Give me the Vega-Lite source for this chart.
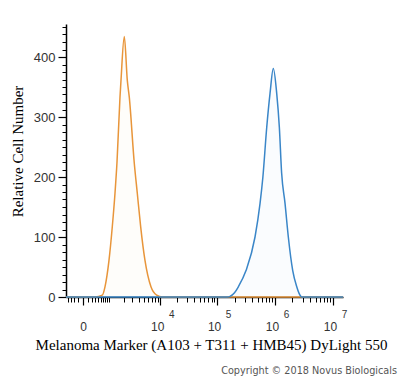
{
  "$schema": "https://vega.github.io/schema/vega-lite/v6.json",
  "width": 277,
  "height": 273,
  "autosize": {"type": "none"},
  "padding": {"left": 66, "top": 24, "right": 57, "bottom": 81},
  "background": "white",
  "config": {"view": {"stroke": null}, "axis": {"grid": false}},
  "title": {
    "text": "Copyright © 2018 Novus Biologicals",
    "orient": "bottom",
    "anchor": "end",
    "frame": "group",
    "font": "DejaVu Sans",
    "fontSize": 9.7,
    "fontWeight": "normal",
    "color": "#555555",
    "offset": 14,
    "dx": 54
  },
  "data": {
    "values": [
      {"series": "control", "x": -472, "count": 0},
      {"series": "control", "x": 300, "count": 0},
      {"series": "control", "x": 564, "count": 3},
      {"series": "control", "x": 683, "count": 17},
      {"series": "control", "x": 885, "count": 61},
      {"series": "control", "x": 1077, "count": 117},
      {"series": "control", "x": 1255, "count": 173},
      {"series": "control", "x": 1400, "count": 225},
      {"series": "control", "x": 1637, "count": 333},
      {"series": "control", "x": 1724, "count": 361},
      {"series": "control", "x": 2034, "count": 434},
      {"series": "control", "x": 2355, "count": 361},
      {"series": "control", "x": 2587, "count": 333},
      {"series": "control", "x": 3263, "count": 223},
      {"series": "control", "x": 3739, "count": 173},
      {"series": "control", "x": 4348, "count": 117},
      {"series": "control", "x": 5247, "count": 61},
      {"series": "control", "x": 6787, "count": 17},
      {"series": "control", "x": 8639, "count": 3},
      {"series": "control", "x": 11000, "count": 0},
      {"series": "control", "x": 14870000, "count": 0},
      {"series": "marker", "x": -472, "count": 0},
      {"series": "marker", "x": 150000, "count": 0},
      {"series": "marker", "x": 167000, "count": 1},
      {"series": "marker", "x": 200000, "count": 7},
      {"series": "marker", "x": 233000, "count": 17},
      {"series": "marker", "x": 316000, "count": 44},
      {"series": "marker", "x": 452000, "count": 100},
      {"series": "marker", "x": 552000, "count": 156},
      {"series": "marker", "x": 618000, "count": 200},
      {"series": "marker", "x": 720000, "count": 283},
      {"series": "marker", "x": 820000, "count": 339},
      {"series": "marker", "x": 935000, "count": 381},
      {"series": "marker", "x": 1071000, "count": 339},
      {"series": "marker", "x": 1188000, "count": 283},
      {"series": "marker", "x": 1300000, "count": 207},
      {"series": "marker", "x": 1489000, "count": 156},
      {"series": "marker", "x": 1697000, "count": 100},
      {"series": "marker", "x": 2021000, "count": 44},
      {"series": "marker", "x": 2371000, "count": 17},
      {"series": "marker", "x": 2600000, "count": 6},
      {"series": "marker", "x": 2890000, "count": 0},
      {"series": "marker", "x": 14870000, "count": 0}
    ]
  },
  "layer": [
    {
      "transform": [{"filter": "datum.series == 'control'"}],
      "mark": {"type": "area", "interpolate": "monotone", "color": "#E8953A", "fillOpacity": 0.025, "line": {"color": "#E8953A", "strokeWidth": 1.5}},
      "encoding": {
        "x": {
          "field": "x", "type": "quantitative",
          "scale": {"type": "symlog", "constant": 490, "domain": [-472, 14870000], "nice": false, "zero": false},
          "axis": {
            "orient": "bottom",
            "values": [0, 10000, 100000, 1000000, 10000000],
            "labelExpr": "datum.value == 0 ? '0' : '10'",
            "labelOffset": {"condition": {"test": "datum.value == 0", "value": 0}, "value": -3},
            "labelFont": "Liberation Sans",
            "labelFontSize": 12,
            "labelColor": "#333333",
            "labelPadding": 16,
            "labelFlush": false,
            "labelOverlap": false,
            "tickSize": 8,
            "tickColor": "#000000",
            "tickWidth": 1.2,
            "domainColor": "#000000",
            "domainWidth": 1.5,
            "title": "Melanoma Marker (A103 + T311 + HMB45) DyLight 550",
            "titleFont": "Liberation Serif",
            "titleFontSize": 15,
            "titleFontWeight": "normal",
            "titleColor": "#000000",
            "titlePadding": 5,
            "titleX": 145
          }
        },
        "y": {
          "field": "count", "type": "quantitative",
          "scale": {"domain": [0, 455], "nice": false},
          "axis": {
            "orient": "left",
            "values": [0, 100, 200, 300, 400],
            "labelFont": "Liberation Sans",
            "labelFontSize": 13,
            "labelColor": "#333333",
            "labelPadding": 3,
            "tickSize": 8,
            "tickColor": "#000000",
            "tickWidth": 1.2,
            "domainColor": "#000000",
            "domainWidth": 1.5,
            "title": "Relative Cell Number",
            "titleFont": "Liberation Serif",
            "titleFontSize": 15,
            "titleFontWeight": "normal",
            "titleColor": "#000000",
            "titlePadding": 8,
            "titleY": 127
          }
        }
      }
    },
    {
      "transform": [{"filter": "datum.series == 'marker'"}],
      "mark": {"type": "area", "interpolate": "monotone", "color": "#3A86C8", "fillOpacity": 0.025, "line": {"color": "#3A86C8", "strokeWidth": 1.5}},
      "encoding": {
        "x": {
          "field": "x", "type": "quantitative",
          "axis": {
            "orient": "bottom",
            "values": [-400, -300, -200, -100, 100, 200, 300, 400, 500, 600, 700, 800, 900, 2000, 3000, 4000, 5000, 6000, 7000, 8000, 9000, 20000, 30000, 40000, 50000, 60000, 70000, 80000, 90000, 200000, 300000, 400000, 500000, 600000, 700000, 800000, 900000, 2000000, 3000000, 4000000, 5000000, 6000000, 7000000, 8000000, 9000000],
            "labels": false,
            "domain": false,
            "tickSize": 5,
            "tickColor": "#000000",
            "tickWidth": 1,
            "title": null
          }
        },
        "y": {
          "field": "count", "type": "quantitative",
          "axis": {
            "orient": "left",
            "values": [12.5, 25, 37.5, 50, 62.5, 75, 87.5, 112.5, 125, 137.5, 150, 162.5, 175, 187.5, 212.5, 225, 237.5, 250, 262.5, 275, 287.5, 312.5, 325, 337.5, 350, 362.5, 375, 387.5, 412.5, 425, 437.5, 450],
            "labels": false,
            "domain": false,
            "tickSize": 4,
            "tickColor": "#000000",
            "tickWidth": 1,
            "title": null
          }
        }
      }
    },
    {
      "transform": [{"filter": "datum.series == 'marker'"}],
      "mark": {"type": "point", "opacity": 0},
      "encoding": {
        "x": {
          "field": "x", "type": "quantitative",
          "axis": {
            "orient": "bottom",
            "values": [10000, 100000, 1000000, 10000000],
            "labelExpr": "datum.value == 10000 ? '4' : datum.value == 100000 ? '5' : datum.value == 1000000 ? '6' : '7'",
            "labelFont": "Liberation Sans",
            "labelFontSize": 10,
            "labelColor": "#333333",
            "labelOffset": 11,
            "labelPadding": 12,
            "labelFlush": false,
            "labelOverlap": false,
            "ticks": false,
            "tickSize": 0,
            "domain": false,
            "title": null
          }
        },
        "y": {"field": "count", "type": "quantitative", "axis": null}
      }
    }
  ],
  "resolve": {"axis": {"x": "independent", "y": "independent"}}
}
